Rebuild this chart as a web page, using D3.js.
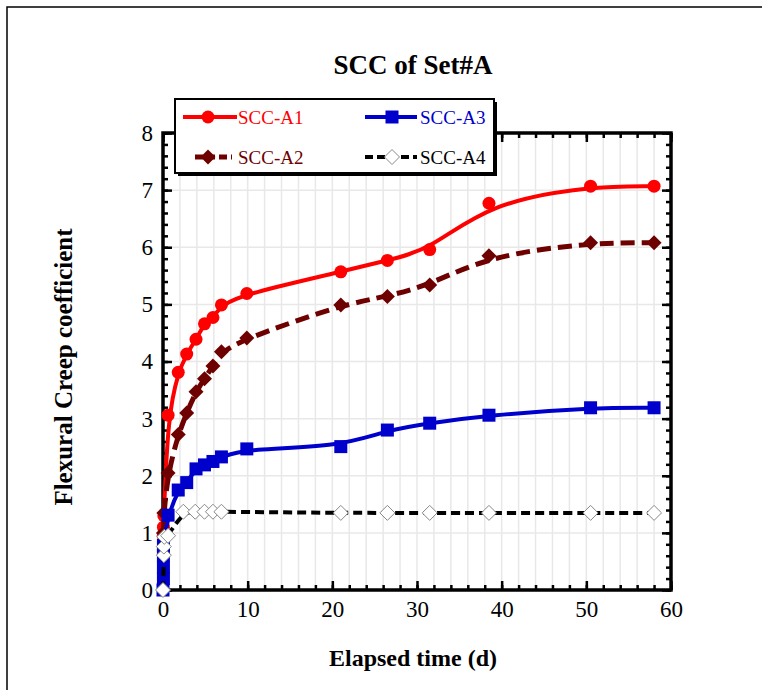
<!DOCTYPE html>
<html>
<head>
<meta charset="utf-8">
<script src="https://cdn.jsdelivr.net/npm/d3@7/dist/d3.min.js"></script>
<style>
  body { margin: 0; background: #fff; }
  text { font-family: "Liberation Serif", "Times New Roman", serif; }
</style>
</head>
<body>
<div id="chart"></div>
<script>
// data
const seriesNames = ["SCC-A1", "SCC-A2", "SCC-A3", "SCC-A4"];

const timeA1 = [0.02, 0.05, 0.1, 0.6, 1.8, 2.8, 3.9, 4.9, 5.9, 6.9, 9.9, 21, 26.5, 31.5, 38.5, 50.5, 58];
const valA1  = [0.95, 1.1, 1.3, 3.06, 3.81, 4.13, 4.39, 4.66, 4.77, 4.99, 5.19, 5.57, 5.77, 5.96, 6.77, 7.07, 7.07];

const timeA2 = [0.05, 0.1, 0.6, 1.8, 2.8, 3.9, 4.9, 5.9, 6.9, 9.9, 21, 26.5, 31.5, 38.5, 50.5, 58];
const valA2  = [1.0, 1.35, 2.05, 2.72, 3.1, 3.47, 3.7, 3.92, 4.17, 4.41, 4.99, 5.14, 5.34, 5.85, 6.08, 6.08];

const timeA3 = [0, 0.05, 0.05, 0.05, 0.05, 0.6, 1.8, 2.8, 3.9, 4.9, 5.9, 6.9, 9.9, 21, 26.5, 31.5, 38.5, 50.5, 58];
const valA3  = [0, 0.2, 0.4, 0.6, 0.78, 1.31, 1.75, 1.88, 2.12, 2.19, 2.25, 2.33, 2.47, 2.51, 2.8, 2.92, 3.06, 3.19, 3.19];

const timeA4 = [0, 0.1, 0.1, 0.15, 0.6, 2.4, 3.8, 4.9, 5.9, 6.9, 21, 26.5, 31.5, 38.5, 50.5, 58];
const valA4  = [0, 0.61, 0.76, 0.93, 0.95, 1.37, 1.37, 1.37, 1.37, 1.37, 1.35, 1.35, 1.35, 1.35, 1.35, 1.35];

const xTicks = [0, 10, 20, 30, 40, 50, 60];
const yTicks = [0, 1, 2, 3, 4, 5, 6, 7, 8];

const W = 762, H = 690;
const pLeft = 163, pRight = 671, pTop = 133, pBottom = 590;

const svg = d3.select("#chart").append("svg")
  .attr("width", W).attr("height", H);

// outer frame
svg.append("rect")
  .attr("x", 7).attr("y", 7).attr("width", 800).attr("height", 800)
  .attr("fill", "none").attr("stroke", "#000").attr("stroke-width", 1.5);

const x = d3.scaleLinear().domain([0, 60]).range([pLeft, pRight]);
const y = d3.scaleLinear().domain([0, 8]).range([pBottom, pTop]);

// grid
svg.append("g").selectAll("line")
  .data(d3.range(2, 60, 2))
  .enter().append("line")
  .attr("x1", d => x(d)).attr("x2", d => x(d))
  .attr("y1", pTop).attr("y2", pBottom)
  .attr("stroke", "#e8e8e8").attr("stroke-width", 1.5);
svg.append("g").selectAll("line")
  .data(d3.range(1, 8))
  .enter().append("line")
  .attr("x1", pLeft).attr("x2", pRight)
  .attr("y1", d => y(d)).attr("y2", d => y(d))
  .attr("stroke", "#e8e8e8").attr("stroke-width", 1.5);

// axes: minor + major ticks on all four sides, pointing inwards
function styleAxis(g) {
  g.select(".domain").remove();
  g.selectAll(".tick line").attr("stroke", "#000").attr("stroke-width", 2.5);
  g.selectAll("text").attr("fill", "#000").style("font-size", "23px")
    .style("font-family", "'Liberation Serif', serif");
}
const minorX = d3.range(0, 61, 2), minorY = d3.range(0, 8.01, 0.2);

svg.append("g").attr("transform", `translate(0,${pBottom})`)
  .call(d3.axisBottom(x).tickValues(minorX).tickSize(-5).tickFormat("")).call(styleAxis);
svg.append("g").attr("transform", `translate(0,${pBottom})`)
  .call(d3.axisBottom(x).tickValues(xTicks).tickSize(-9).tickPadding(11)).call(styleAxis);
svg.append("g").attr("transform", `translate(0,${pTop})`)
  .call(d3.axisTop(x).tickValues(minorX).tickSize(-5).tickFormat("")).call(styleAxis);
svg.append("g").attr("transform", `translate(0,${pTop})`)
  .call(d3.axisTop(x).tickValues(xTicks).tickSize(-9).tickFormat("")).call(styleAxis);

svg.append("g").attr("transform", `translate(${pLeft},0)`)
  .call(d3.axisLeft(y).tickValues(minorY).tickSize(-5).tickFormat("")).call(styleAxis);
svg.append("g").attr("transform", `translate(${pLeft},0)`)
  .call(d3.axisLeft(y).tickValues(yTicks).tickSize(-9).tickPadding(10)).call(styleAxis);
svg.append("g").attr("transform", `translate(${pRight},0)`)
  .call(d3.axisRight(y).tickValues(minorY).tickSize(-5).tickFormat("")).call(styleAxis);
svg.append("g").attr("transform", `translate(${pRight},0)`)
  .call(d3.axisRight(y).tickValues(yTicks).tickSize(-9).tickFormat("")).call(styleAxis);

svg.append("rect")
  .attr("x", pLeft).attr("y", pTop).attr("width", pRight - pLeft).attr("height", pBottom - pTop)
  .attr("fill", "none").attr("stroke", "#000").attr("stroke-width", 3.5);

// series
const series = [
  { name: seriesNames[0], t: timeA1, v: valA1, color: "#ff0000", dash: null, width: 4, mark: "circle" },
  { name: seriesNames[1], t: timeA2, v: valA2, color: "#6e0000", dash: "14,7", width: 5, mark: "diamond" },
  { name: seriesNames[2], t: timeA3, v: valA3, color: "#0000cc", dash: null, width: 4, mark: "square" },
  { name: seriesNames[3], t: timeA4, v: valA4, color: "#000000", dash: "9,5", width: 4, mark: "open" }
];

const line = d3.line().curve(d3.curveBasis).x(d => x(d[0])).y(d => y(d[1]));

function drawMarker(g, kind, color) {
  if (kind === "circle") {
    g.append("circle").attr("r", 6.5).attr("fill", color);
  } else if (kind === "square") {
    g.append("rect").attr("x", -6.5).attr("y", -6.5).attr("width", 13).attr("height", 13).attr("fill", color);
  } else if (kind === "diamond") {
    g.append("path").attr("d", "M0,-7.5L7.5,0L0,7.5L-7.5,0Z").attr("fill", color);
  } else {
    g.append("path").attr("d", "M0,-7.5L7.5,0L0,7.5L-7.5,0Z")
      .attr("fill", "#fff").attr("stroke", "#888").attr("stroke-width", 1);
  }
}

series.forEach(s => {
  const pts = s.t.map((t, i) => [t, s.v[i]]);
  svg.append("path").datum(pts)
    .attr("d", line)
    .attr("fill", "none")
    .attr("stroke", s.color)
    .attr("stroke-width", s.width)
    .attr("stroke-dasharray", s.dash);
  pts.forEach(p => {
    const g = svg.append("g").attr("transform", `translate(${x(p[0])},${y(p[1])})`);
    drawMarker(g, s.mark, s.color);
  });
});

// legend
const lg = svg.append("g");
lg.append("rect").attr("x", 178).attr("y", 102).attr("width", 319).attr("height", 74).attr("fill", "#000");
lg.append("rect").attr("x", 175).attr("y", 99).attr("width", 319).attr("height", 74)
  .attr("fill", "#fff").attr("stroke", "#000").attr("stroke-width", 2);

const legendPos = [
  { x1: 183, x2: 237, mx: 208, ty: 117, tx: 238 },
  { x1: 195, x2: 232, mx: 208, ty: 157, tx: 238 },
  { x1: 365, x2: 417, mx: 392, ty: 117, tx: 420 },
  { x1: 365, x2: 417, mx: 392, ty: 157, tx: 420 }
];
series.forEach((s, i) => {
  const p = legendPos[i];
  lg.append("line").attr("x1", p.x1).attr("x2", p.x2).attr("y1", p.ty).attr("y2", p.ty)
    .attr("stroke", s.color).attr("stroke-width", s.width).attr("stroke-dasharray", s.dash ? "8,4" : null);
  drawMarker(lg.append("g").attr("transform", `translate(${p.mx},${p.ty})`), s.mark, s.color);
  lg.append("text").attr("x", p.tx).attr("y", p.ty).attr("dy", "0.35em")
    .attr("fill", s.color === "#000000" ? "#000" : s.color)
    .style("font-size", "19px").text(s.name);
});

// titles
svg.append("text").attr("x", 413).attr("y", 74).attr("text-anchor", "middle")
  .style("font-size", "27px").style("font-weight", "bold").text("SCC of Set#A");
svg.append("text").attr("x", 413).attr("y", 666).attr("text-anchor", "middle")
  .style("font-size", "24px").style("font-weight", "bold").text("Elapsed time (d)");
svg.append("text").attr("transform", "translate(72,367) rotate(-90)").attr("text-anchor", "middle")
  .style("font-size", "25px").style("font-weight", "bold").text("Flexural Creep coefficient");
</script>
</body>
</html>
